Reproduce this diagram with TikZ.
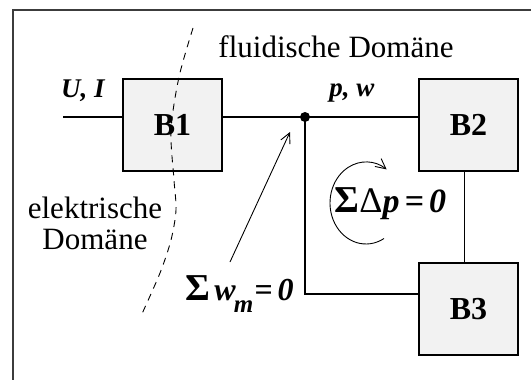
\documentclass[tikz,border=0pt]{standalone}
\usepackage{fontspec}
\setmainfont{Liberation Serif}
\usetikzlibrary{positioning,arrows.meta}
\definecolor{boxgray}{RGB}{242,242,242}
\definecolor{framegray}{RGB}{60,60,60}
\newcommand{\sumsym}{{\fontsize{19}{19}\selectfont\bfseries Σ}}

\begin{document}
\begin{tikzpicture}[
    x=0.5pt, y=-0.5pt,
    line width=0.65pt,
    block/.style={
        draw,
        fill=boxgray,
        minimum width=49.5pt,
        minimum height=46pt,
        font=\fontsize{16}{18}\selectfont\bfseries,
        inner sep=0pt,
        outer sep=0pt
    },
    varlabel/.style={font=\fontsize{13.5}{15}\selectfont\bfseries\itshape, inner sep=0pt},
    domlabel/.style={font=\fontsize{15.5}{15.5}\selectfont, align=center, inner sep=0pt},
    thinarrow/.style={line width=0.45pt, -{Straight Barb[length=5pt,width=5pt]}}
]
\useasboundingbox (0,0) rectangle (531,380);
\draw[framegray, line width=0.75pt] (13,380) -- (13,10) -- (531,10);

% blocks
\node[block] (b1) at (172.5,125) {B1};
\node[block, right=98.5pt of b1] (b2) {B2};
\node[block, below=46pt of b2] (b3) {B3};

% connections
\coordinate (uin) at (63,117);
\coordinate (jn) at (305,117);
\coordinate (corner) at (305,294);
\draw (uin) -- (uin -| b1.west);
\draw (b1.east |- jn) -- (jn) -- (jn -| b2.west);
\draw (jn) -- (corner) -- (corner -| b3.west);
\draw ([xshift=-2pt]b2.south) -- ([xshift=-2pt]b3.north);
\fill (jn) circle (2.5pt);

\node[varlabel] (ui) at (83,91) {U, I};
\node[varlabel] (pw) at (352,93) {p, w};

% domains
\node[domlabel] (fluid) at (336,47) {fluidische Domäne};
\node[domlabel] (elek) at (95,223) {elektrische\\Domäne};
\draw[line width=0.45pt, dash pattern=on 3.5pt off 3pt] plot[smooth] coordinates
    {(193,28) (179,77) (171,130) (174,180) (176,210) (171,240) (160,273) (141,316)};

% node rule
\node[anchor=base west, inner sep=0pt] (kirch) at (185,300)
    {\sumsym\hspace{2pt}{\fontsize{16}{16}\selectfont\bfseries\itshape w\kern-1pt\raisebox{-6pt}{\fontsize{12.5}{12.5}\selectfont m}\hspace{0.5pt}=\hspace{2.5pt}0}};
\coordinate (wtail) at (230,262);
\coordinate (whead) at (290,132);
\draw[thinarrow] (wtail) -- (whead);

% loop rule
\node[anchor=base west, inner sep=0pt] (loop) at (334,212)
    {\sumsym{\fontsize{18}{18}\selectfont Δ}{\fontsize{17}{17}\selectfont\bfseries\itshape p\hspace{2.5pt}=\hspace{2.5pt}0}};
\coordinate (loopstart) at (384,238.5);
\draw[thinarrow] (loopstart) arc[start angle=-60, end angle=-305, x radius=18pt, y radius=20.5pt];

\end{tikzpicture}
\end{document}
